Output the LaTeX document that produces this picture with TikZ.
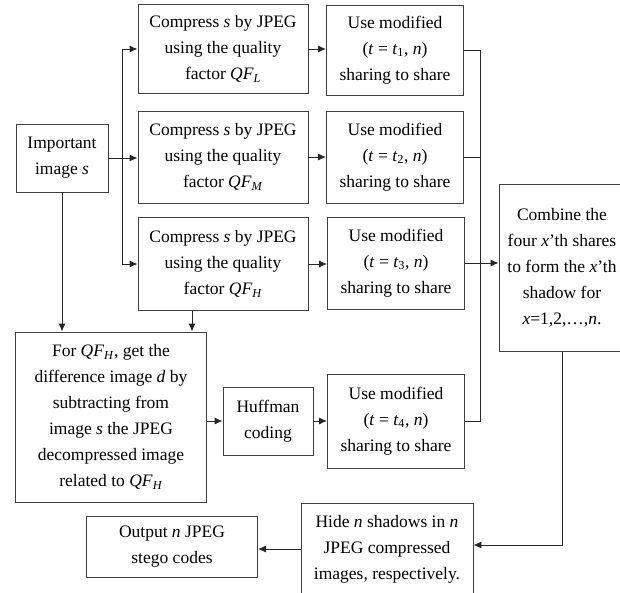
\documentclass[tikz,border=0pt]{standalone}
\usepackage{fontspec}
\setmainfont{Liberation Serif}
\usetikzlibrary{arrows.meta}
\def\QF#1{\textit{QF}\textsubscript{\textit{#1}}}
\def\tsub#1{\textit{t}\textsubscript{#1}}
\def\share#1{Use modified\\(\textit{t} = \tsub{#1}, \textit{n})\\sharing to share}
\def\compress#1{Compress \textit{s} by JPEG\\using the quality\\factor \QF{#1}}

\begin{document}
\begin{tikzpicture}[x=1pt,y=-1pt,
  box/.style={draw=black!75,line width=0.9pt,align=center,inner sep=0pt,
    font=\fontsize{17.5}{26}\selectfont},
  flow/.style={line width=0.9pt,draw=black!85},
  arr/.style={flow,-{Latex[length=8pt,width=7pt]}}]
\clip (0,0) rectangle (620,593);

\node[box,minimum width=92,minimum height=68] (imp) at (62,158) {Important\\image \textit{s}};
\node[box,minimum width=170,minimum height=89] (cL) at (223,49) {\compress{L}};
\node[box,minimum width=170,minimum height=92] (cM) at (223,157) {\compress{M}};
\node[box,minimum width=170,minimum height=93] (cH) at (223,264) {\compress{H}};
\node[box,minimum width=137,minimum height=90] (u1) at (395,50) {\share{1}};
\node[box,minimum width=137,minimum height=92] (u2) at (395,157) {\share{2}};
\node[box,minimum width=137,minimum height=92] (u3) at (396,263) {\share{3}};
\node[box,minimum width=126,minimum height=167] (comb) at (562,268) {Combine the\\four \textit{x}'th shares\\to form the \textit{x}'th\\shadow for\\\textit{x}=1,2,\dots,\textit{n}.};
\node[box,minimum width=191,minimum height=170] (forH) at (111,417) {For \QF{H}, get the\\difference image \textit{d} by\\subtracting from\\image \textit{s} the JPEG\\decompressed image\\related to \QF{H}};
\node[box,minimum width=90,minimum height=68] (huff) at (268,421) {Huffman\\coding};
\node[box,minimum width=137,minimum height=94] (u4) at (396,421) {\share{4}};
\node[box,minimum width=172,minimum height=92] (hide) at (387,549) {Hide \textit{n} shadows in \textit{n}\\JPEG compressed\\images, respectively.};
\node[box,minimum width=171,minimum height=61] (out) at (172,547) {Output \textit{n} JPEG\\stego codes};

\draw[flow] (imp.east) -- ++(14,0) coordinate (br);
\draw[arr] (br) |- (cL.west);
\draw[arr] (imp.east) -- (imp.east -| cM.west);
\draw[arr] (br) |- (cH.west);
\draw[arr] (cL.east) -- (cL.east -| u1.west);
\draw[arr] (cM.east) -- (cM.east -| u2.west);
\draw[arr] (cH.east) -- (cH.east -| u3.west);

\coordinate (col) at (480,0);
\draw[flow] (u1.east) -| (col |- u4.east) -- (u4.east);
\draw[flow] (u2.east) -- (u2.east -| col);
\draw[arr] (u3.east) -- (u3.east -| comb.west);

\draw[arr] (imp.south) -- (imp.south |- forH.north);
\draw[arr] ([xshift=-31]cH.south) -- ([xshift=-31]cH.south |- forH.north);
\draw[arr] (forH.east |- huff.west) -- (huff.west);
\draw[arr] (huff.east) -- (u4.west);

\draw[arr] (comb.south) |- ([yshift=4]hide.east);
\draw[arr] (hide.west) -- (hide.west -| out.east);
\end{tikzpicture}
\end{document}
